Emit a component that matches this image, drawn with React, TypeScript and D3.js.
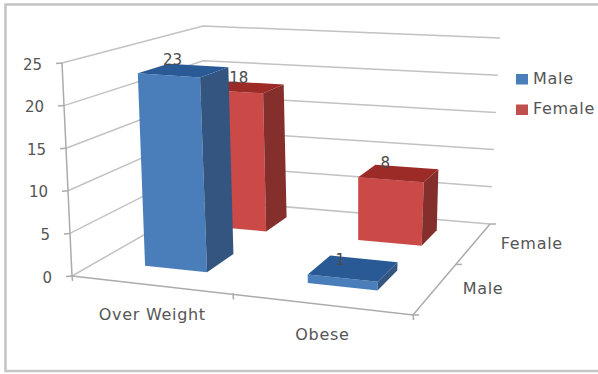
import React from "react";
import * as d3 from "d3";

// Chart values
const categories = ["Over Weight", "Obese"];
const seriesNames = ["Male", "Female"];
const maleValues = [23, 1];
const femaleValues = [18, 8];
const valueTicks = [0, 5, 10, 15, 20, 25];

type Pt = [number, number];

// Perspective map from the unit square onto a four-cornered quad.
function quadMap(p00: Pt, p10: Pt, p11: Pt, p01: Pt) {
  const dx1 = p10[0] - p11[0], dy1 = p10[1] - p11[1];
  const dx2 = p01[0] - p11[0], dy2 = p01[1] - p11[1];
  const sx = p00[0] - p10[0] + p11[0] - p01[0];
  const sy = p00[1] - p10[1] + p11[1] - p01[1];
  const det = dx1 * dy2 - dy1 * dx2;
  const g = (sx * dy2 - sy * dx2) / det;
  const h = (dx1 * sy - dy1 * sx) / det;
  const a = p10[0] - p00[0] + g * p10[0];
  const b = p01[0] - p00[0] + h * p01[0];
  const d = p10[1] - p00[1] + g * p10[1];
  const e = p01[1] - p00[1] + h * p01[1];
  return (u: number, v: number): Pt => {
    const w = g * u + h * v + 1;
    return [(a * u + b * v + p00[0]) / w, (d * u + e * v + p00[1]) / w];
  };
}

// Floor plane and the plane at the top of the value axis
const floor = quadMap([72, 276], [413, 315], [490, 224], [205, 200]);
const ceiling = quadMap([62, 63], [434, 90], [500, 38], [203, 26]);

const heightScale = d3.scaleLinear().domain([0, 25]).range([0, 1]);

// A point in chart space: u across categories, v into the depth, value upward.
function project(u: number, v: number, value: number): Pt {
  const f = floor(u, v);
  const c = ceiling(u, v);
  const t = heightScale(value);
  return [f[0] + (c[0] - f[0]) * t, f[1] + (c[1] - f[1]) * t];
}

// Footprints of the columns on the floor
const categorySpans: Pt[] = [[0.14, 0.34], [0.648, 0.85]];
const seriesSpans: Pt[] = [[0.2, 0.41], [0.7, 0.9]];
const columnDrop = 3;

const GRID = "#c2c2c2";
const palette = [
  { front: "#4a7ebb", side: "#33557f", top: "#2a5a96", key: "#4a7ebb" },
  { front: "#cb4a47", side: "#842f2c", top: "#9c2a26", key: "#c0504d" },
];

const FONT = "'DejaVu Sans', sans-serif";
const TEXT_SPACING = 0.7;
const labelLift = d3.scaleLinear().domain([1, 8, 23]).range([-8, -1, 3]);
const labelShift = d3.scaleLinear().domain([1, 18, 23]).range([10, 10, 4]);
const pathOf = d3.line<Pt>();

function Column({ cat, ser, value }: { cat: number; ser: number; value: number }) {
  const [u0, u1] = categorySpans[cat];
  const [v0, v1] = seriesSpans[ser];
  const at = (u: number, v: number, h: number): Pt => {
    const p = project(u, v, h);
    return [p[0], p[1] + columnDrop * (1 - heightScale(h))];
  };
  const c = palette[ser];
  const face = (pts: Pt[]) => pathOf(pts) + "Z";
  return (
    <g>
      <path d={face([at(u0, v0, 0), at(u1, v0, 0), at(u1, v0, value), at(u0, v0, value)])} fill={c.front} />
      <path d={face([at(u1, v0, 0), at(u1, v1, 0), at(u1, v1, value), at(u1, v0, value)])} fill={c.side} />
      <path d={face([at(u0, v0, value), at(u1, v0, value), at(u1, v1, value), at(u0, v1, value)])} fill={c.top} />
    </g>
  );
}

function ValueLabel({ cat, ser, value }: { cat: number; ser: number; value: number }) {
  const p = project(categorySpans[cat][0], seriesSpans[ser][1], value);
  return (
    <text
      x={p[0] + labelShift(value)}
      y={p[1] - labelLift(value)}
      textAnchor="middle"
      dominantBaseline="middle"
      fontFamily={FONT}
      fontSize={15}
      fill="#4a4a4a"
    >
      {value}
    </text>
  );
}

export default function App() {
  const series = [maleValues, femaleValues];
  return (
    <svg
      width={598}
      height={374}
      viewBox="0 0 598 374"
      style={{ position: "absolute", left: 0, top: 0, background: "#fff" }}
    >
      {/* outer frame, open on the right */}
      <path d="M598,4.5H5.5V371H598" fill="none" stroke="#c4c4c4" strokeWidth={2.5} />

      {/* gridlines along the side and back walls */}
      {valueTicks.map((t) => (
        <path
          key={t}
          d={pathOf([project(0, 0, t), project(0, 1, t), project(1, 1, t)]) as string}
          fill="none"
          stroke={GRID}
          strokeWidth={1.5}
        />
      ))}

      {/* value axis */}
      <path d={pathOf([project(0, 0, 0), project(0, 0, 25)]) as string} stroke="#ababab" strokeWidth={1.5} fill="none" />
      {valueTicks.map((t) => {
        const p = project(0, 0, t);
        return (
          <g key={t}>
            <line x1={p[0] - 6} x2={p[0]} y1={p[1] + 0.5} y2={p[1]} stroke="#ababab" strokeWidth={1.5} />
            <text
              x={p[0] - 20}
              y={p[1] + 2}
              textAnchor="end"
              dominantBaseline="middle"
              fontFamily={FONT}
              fontSize={15}
              fill="#555"
            >
              {t}
            </text>
          </g>
        );
      })}

      {/* floor edges with their ticks */}
      <path d={pathOf([project(0, 0, 0), project(1, 0, 0), project(1, 1, 0)]) as string} stroke="#ababab" strokeWidth={1.5} fill="none" />
      {[0, 0.5, 1].map((u) => {
        const p = project(u, 0, 0);
        return <line key={u} x1={p[0]} x2={p[0] + 0.5} y1={p[1] - 1} y2={p[1] + 5} stroke="#ababab" strokeWidth={1.5} />;
      })}
      {[0, 0.5, 1].map((v) => {
        const p = project(1, v, 0);
        return <line key={v} x1={p[0]} x2={p[0] + 6} y1={p[1]} y2={p[1]} stroke="#ababab" strokeWidth={1.5} />;
      })}

      {/* columns, back row first */}
      {[1, 0].map((ser) =>
        categories.map((_, cat) => <Column key={`${ser}-${cat}`} cat={cat} ser={ser} value={series[ser][cat]} />)
      )}
      {[1, 0].map((ser) =>
        categories.map((_, cat) => <ValueLabel key={`${ser}-${cat}`} cat={cat} ser={ser} value={series[ser][cat]} />)
      )}

      {/* category labels below the front edge */}
      {categories.map((name, i) => {
        const p = project(i === 0 ? 0.25 : 0.75, 0, 0);
        return (
          <text key={name} x={p[0] + 2} y={p[1] + 31} textAnchor="middle" dominantBaseline="middle" fontFamily={FONT} fontSize={16} letterSpacing={TEXT_SPACING} fill="#555">
            {name}
          </text>
        );
      })}

      {/* series labels along the right edge */}
      {seriesNames.map((name, i) => {
        const p = project(1, i === 0 ? 0.25 : 0.75, 0);
        return (
          <text key={name} x={p[0] + 27} y={p[1] + 1} dominantBaseline="middle" fontFamily={FONT} fontSize={16} letterSpacing={TEXT_SPACING} fill="#555">
            {name}
          </text>
        );
      })}

      {/* legend */}
      {seriesNames.map((name, i) => (
        <g key={name} transform={`translate(516,${74 + i * 30.5})`}>
          <rect width={12} height={10.5} fill={palette[i].key} />
          <text x={17} y={5} dominantBaseline="middle" fontFamily={FONT} fontSize={16} letterSpacing={TEXT_SPACING} fill="#555">
            {name}
          </text>
        </g>
      ))}
    </svg>
  );
}
